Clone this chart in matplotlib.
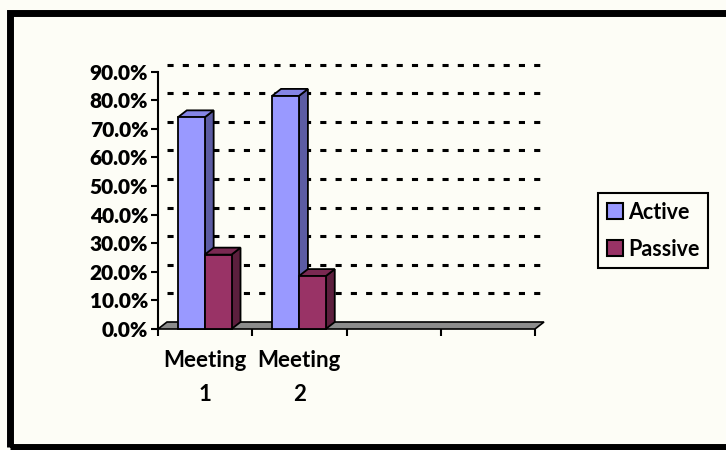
import matplotlib
matplotlib.use("Agg")
import matplotlib.pyplot as plt
from matplotlib.patches import Polygon, Rectangle, Patch

# ---- data ----
categories = ["Meeting\n1", "Meeting\n2", "", ""]
series_names = ["Active", "Passive"]
active = [0.74, 0.815]
passive = [0.26, 0.185]
y_ticks = [0.0, 0.1, 0.2, 0.3, 0.4, 0.5, 0.6, 0.7, 0.8, 0.9]
y_tick_labels = ["0.0%", "10.0%", "20.0%", "30.0%", "40.0%", "50.0%",
                 "60.0%", "70.0%", "80.0%", "90.0%"]

# ---- style ----
BG = "#FDFDF6"
FONT = "Lato"
colors = {
    "Active": ("#9999FF", "#5C5CA3", "#8585E6"),
    "Passive": ("#993366", "#5C1F3D", "#7A2952"),
}

W, H = 726, 450
fig = plt.figure(figsize=(W / 100, H / 100), dpi=100)
fig.patch.set_facecolor(BG)


def px(x0, y0, x1, y1):
    return [x0 / W, 1 - y1 / H, (x1 - x0) / W, (y1 - y0) / H]


ax_l, ax_t, ax_r, ax_b = 158, 71.6, 535, 329
ax = fig.add_axes(px(ax_l, ax_t, ax_r, ax_b))
ncat = len(categories)
ymax = y_ticks[-1]
ax.set_xlim(0, ncat)
ax.set_ylim(0, ymax)
ax.patch.set_alpha(0)
for k, s in ax.spines.items():
    s.set_visible(k == "left")
ax.spines["left"].set_linewidth(1.5)
ax.spines["left"].set_zorder(6)

# depth offsets (9 px right, 7 px up) in data units
DX = 9 * ncat / (ax_r - ax_l)
DY = 7 * ymax / (ax_b - ax_t)

# back-wall dashed gridlines
for v in y_ticks[1:]:
    ax.plot([DX, ncat + DX], [v + DY, v + DY], color="black", lw=2.2,
            dashes=(2, 3), clip_on=False, zorder=1, solid_capstyle="butt",
            dash_capstyle="butt")

# floor
ax.add_patch(Polygon([(0, 0), (ncat, 0), (ncat + DX, DY), (DX, DY)],
                     closed=True, facecolor="#8C8C8C", edgecolor="black",
                     lw=1.2, zorder=2, clip_on=False))


def bar3d(x0, w, h, cols, z):
    front, side, top = cols
    kw = dict(edgecolor="black", lw=1.3, clip_on=False, zorder=z,
              joinstyle="miter")
    ax.add_patch(Polygon([(x0 + w, 0), (x0 + w + DX, DY), (x0 + w + DX, h + DY),
                          (x0 + w, h)], closed=True, facecolor=side, **kw))
    ax.add_patch(Polygon([(x0, h), (x0 + w, h), (x0 + w + DX, h + DY),
                          (x0 + DX, h + DY)], closed=True, facecolor=top, **kw))
    ax.add_patch(Rectangle((x0, 0), w, h, facecolor=front, **kw))


bw = 0.285
start = 0.21
for i in range(len(active)):
    bar3d(i + start, bw, active[i], colors["Active"], 3)
    bar3d(i + start + bw, bw, passive[i], colors["Passive"], 4)

# y axis ticks
ax.set_yticks(y_ticks)
ax.set_yticklabels(y_tick_labels, fontfamily=FONT, fontweight="heavy",
                   fontsize=15)
ax.tick_params(axis="y", length=5, width=1.5, direction="out", pad=2)

# x axis
ax.set_xticks([i + 0.5 for i in range(ncat)])
ax.set_xticklabels(categories, fontfamily=FONT, fontweight="bold",
                   fontsize=16, linespacing=1.75)
ax.set_xticks(list(range(ncat + 1)), minor=True)
ax.tick_params(axis="x", which="major", length=0, pad=15)
ax.tick_params(axis="x", which="minor", length=5, width=1.5,
               direction="out")

# legend
handles = [Patch(facecolor=colors[n][0], edgecolor="black", lw=1.5)
           for n in series_names]
leg = fig.legend(handles, series_names, loc="upper left",
                 bbox_to_anchor=(598 / W, 1 - 193 / H),
                 frameon=True, fancybox=False, edgecolor="black",
                 facecolor=BG, framealpha=1,
                 handlelength=0.75, handleheight=0.75, handletextpad=0.25,
                 labelspacing=0.75, borderpad=0.4, borderaxespad=0,
                 prop=dict(family=FONT, weight="bold", size=15.5))
leg.get_frame().set_linewidth(1.5)

# outer frame
fig.add_artist(Rectangle((10 / W, 1 - 447 / H), (760 - 10) / W,
                         (447 - 13) / H, transform=fig.transFigure,
                         fill=False, edgecolor="black", lw=5))

fig.savefig("out.png", dpi=100, facecolor=BG)
